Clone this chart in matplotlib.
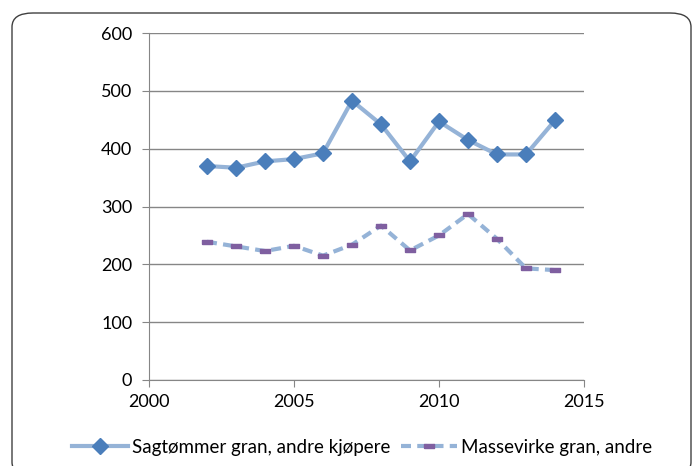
import matplotlib
matplotlib.use("Agg")
import matplotlib.pyplot as plt
from matplotlib.patches import FancyBboxPatch

years = [2002, 2003, 2004, 2005, 2006, 2007, 2008, 2009, 2010, 2011, 2012, 2013, 2014]
sagtommer = [370, 367, 378, 382, 392, 483, 442, 378, 447, 415, 390, 390, 449]
massevirke = [239, 231, 223, 232, 215, 234, 267, 224, 250, 287, 244, 193, 190]
label_sag = "Sagtømmer gran, andre kjøpere"
label_mas = "Massevirke gran, andre"

plt.rcParams['font.family'] = ['Lato', 'DejaVu Sans']

fig = plt.figure(figsize=(6.99, 4.66), dpi=100)
W, H = 699, 466
box = FancyBboxPatch((12 / W, -10 / H), (691 - 12) / W, (H - 13 + 10) / H,
                     boxstyle="round,pad=0,rounding_size=0.03",
                     transform=fig.transFigure, facecolor='white',
                     edgecolor='#404040', linewidth=1.0, zorder=-10)
fig.patches.append(box)

ax = fig.add_axes([149 / W, 1 - 380 / H, (584 - 149) / W, (380 - 33) / H])
ax.set_facecolor('none')
ax.set_zorder(5)

rect = [(-1, -0.45), (1, -0.45), (1, 0.45), (-1, 0.45), (-1, -0.45)]
ax.plot(years, sagtommer, color='#95B3D7', linewidth=3.0, marker='D',
        markersize=8, markerfacecolor='#4A7EBB', markeredgecolor='#4A7EBB',
        label=label_sag, zorder=3)
ax.plot(years, massevirke, color='#95B3D7', linewidth=3.0, linestyle=(0, (2.4, 1.5)),
        marker=rect, markersize=6.5, markerfacecolor='#7F5FA0',
        markeredgecolor='#7F5FA0', label=label_mas, zorder=3)

ax.set_xlim(2000, 2015)
ax.set_ylim(0, 600)
ax.set_xticks([2000, 2005, 2010, 2015])
ax.set_yticks(range(0, 601, 100))
ax.yaxis.grid(True, color='#868686', linewidth=1.0)
ax.set_axisbelow(True)
for s in ['top', 'right']:
    ax.spines[s].set_visible(False)
for s in ['left', 'bottom']:
    ax.spines[s].set_color('#868686')
ax.tick_params(axis='both', direction='out', length=5, color='#868686',
               labelsize=13, labelcolor='black')
ax.tick_params(axis='y', pad=7)
ax.tick_params(axis='x', pad=5)

ax.legend(loc='center', bbox_to_anchor=(362 / W, 1 - 447 / H),
          bbox_transform=fig.transFigure, ncol=2, frameon=False,
          fontsize=13.5, handlelength=3.0, columnspacing=0.55, handletextpad=0.2)

fig.savefig('out.png', dpi=100)
